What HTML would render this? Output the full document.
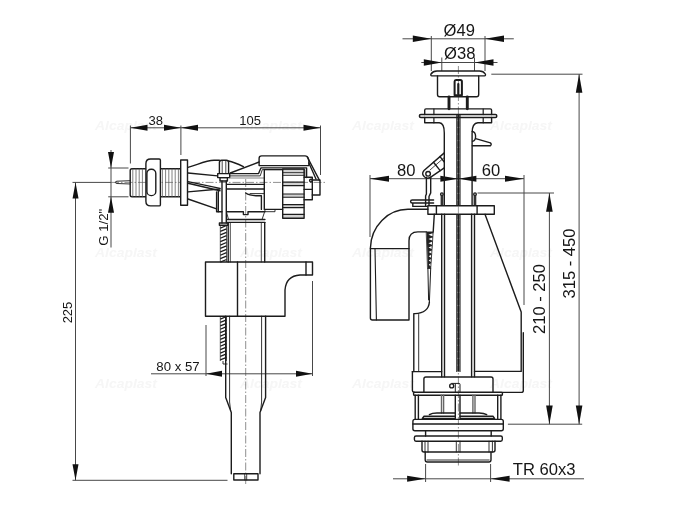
<!DOCTYPE html>
<html><head><meta charset="utf-8"><title>drawing</title>
<style>
html,body{margin:0;padding:0;background:#fff;}
svg{display:block;will-change:transform;opacity:0.999;}
text{font-family:"Liberation Sans",sans-serif;fill:#161616;}
</style></head><body>
<svg width="700" height="528" viewBox="0 0 700 528">
<rect width="700" height="528" fill="#fff"/>

<g font-size="12.5" font-weight="bold" font-style="italic" style="fill:#f6f6f6">
<text x="95" y="129.5" textLength="62" lengthAdjust="spacingAndGlyphs" style="fill:#f6f6f6">Alcaplast</text>
<text x="240" y="129.5" textLength="62" lengthAdjust="spacingAndGlyphs" style="fill:#f6f6f6">Alcaplast</text>
<text x="352" y="129.5" textLength="62" lengthAdjust="spacingAndGlyphs" style="fill:#f6f6f6">Alcaplast</text>
<text x="490" y="129.5" textLength="62" lengthAdjust="spacingAndGlyphs" style="fill:#f6f6f6">Alcaplast</text>
<text x="95" y="257" textLength="62" lengthAdjust="spacingAndGlyphs" style="fill:#f6f6f6">Alcaplast</text>
<text x="240" y="257" textLength="62" lengthAdjust="spacingAndGlyphs" style="fill:#f6f6f6">Alcaplast</text>
<text x="352" y="257" textLength="62" lengthAdjust="spacingAndGlyphs" style="fill:#f6f6f6">Alcaplast</text>
<text x="490" y="257" textLength="62" lengthAdjust="spacingAndGlyphs" style="fill:#f6f6f6">Alcaplast</text>
<text x="95" y="388" textLength="62" lengthAdjust="spacingAndGlyphs" style="fill:#f6f6f6">Alcaplast</text>
<text x="240" y="388" textLength="62" lengthAdjust="spacingAndGlyphs" style="fill:#f6f6f6">Alcaplast</text>
<text x="352" y="388" textLength="62" lengthAdjust="spacingAndGlyphs" style="fill:#f6f6f6">Alcaplast</text>
<text x="490" y="388" textLength="62" lengthAdjust="spacingAndGlyphs" style="fill:#f6f6f6">Alcaplast</text>
</g>
<g stroke="#484848" stroke-width="1" fill="none">
<line x1="130.40" y1="125.50" x2="130.40" y2="163.50" />
<line x1="180.90" y1="125.50" x2="180.90" y2="155.00" />
<line x1="320.50" y1="125.50" x2="320.50" y2="175.00" />
<line x1="130.50" y1="127.80" x2="320.50" y2="127.80" />
<line x1="108.20" y1="168.00" x2="128.50" y2="168.00" />
<line x1="108.20" y1="196.80" x2="128.50" y2="196.80" />
<line x1="111.00" y1="150.00" x2="111.00" y2="247.50" />
<line x1="72.50" y1="182.40" x2="111.00" y2="182.40" />
<line x1="75.50" y1="182.40" x2="75.50" y2="480.30" />
<line x1="72.50" y1="480.30" x2="227.50" y2="480.30" />
<line x1="151.00" y1="373.80" x2="312.50" y2="373.80" />
<line x1="206.00" y1="325.00" x2="206.00" y2="376.00" />
<line x1="312.50" y1="281.00" x2="312.50" y2="376.00" />
<line x1="111.00" y1="182.40" x2="325.00" y2="182.40" stroke-width="0.6" stroke="#444" stroke-dasharray="8 2 1.5 2"/>
<line x1="245.70" y1="179.00" x2="245.70" y2="484.00" stroke-width="0.6" stroke="#444" stroke-dasharray="8 2 1.5 2"/>
</g>
<polygon points="130.50,127.80 147.50,124.80 147.50,130.80" fill="#111" stroke="none"/>
<polygon points="181.00,127.80 164.00,124.80 164.00,130.80" fill="#111" stroke="none"/>
<polygon points="181.00,127.80 198.00,124.80 198.00,130.80" fill="#111" stroke="none"/>
<polygon points="320.50,127.80 303.50,124.80 303.50,130.80" fill="#111" stroke="none"/>
<polygon points="111.00,168.00 108.00,152.00 114.00,152.00" fill="#111" stroke="none"/>
<polygon points="111.00,196.80 108.00,212.80 114.00,212.80" fill="#111" stroke="none"/>
<polygon points="75.50,182.40 72.50,198.40 78.50,198.40" fill="#111" stroke="none"/>
<polygon points="75.50,480.30 72.50,464.30 78.50,464.30" fill="#111" stroke="none"/>
<polygon points="206.00,373.80 222.00,370.80 222.00,376.80" fill="#111" stroke="none"/>
<polygon points="312.50,373.80 296.00,370.80 296.00,376.80" fill="#111" stroke="none"/>
<text x="155.80" y="125.40" font-size="13" text-anchor="middle">38</text>
<text x="250.20" y="125.40" font-size="13" text-anchor="middle">105</text>
<text x="178.00" y="370.50" font-size="13.2" text-anchor="middle">80 x 57</text>
<text x="72.30" y="312.50" font-size="13" text-anchor="middle" transform="rotate(-90 72.30 312.50)">225</text>
<text x="108.30" y="227.20" font-size="13.2" text-anchor="middle" transform="rotate(-90 108.30 227.20)">G 1/2"</text>
<g stroke="#1c1c1c" stroke-width="1.4" fill="none" stroke-linejoin="round" stroke-linecap="round">
<path d="M130.2,180.7 L117,181.2 Q115.3,181.4 115.3,182.3 Q115.3,183.3 117,183.5 L130.2,184" stroke-width="0.9" />
<path d="M146,168.7 H132 Q130.2,168.7 130.2,170.5 V195 Q130.2,196.8 132,196.8 H146" />
<rect x="160.30" y="168.70" width="20.30" height="28.10" rx="0" />
<path d="M132.80,169 V196.6 M136.00,169 V196.6 M139.20,169 V196.6 M142.40,169 V196.6 M162.40,169 V196.6 M165.60,169 V196.6 M168.80,169 V196.6 M172.00,169 V196.6 M175.20,169 V196.6 M178.40,169 V196.6 " stroke-width="0.75" stroke="#555" />
<path d="M150.6,159 H159.2 Q160.4,159 160.4,160.2 V204.7 Q160.4,205.9 159.2,205.9 H150.6 Q145.9,205.9 145.9,201.2 V163.7 Q145.9,159 150.6,159 Z" fill="#fff"/>
<rect x="146.90" y="169.30" width="8.90" height="26.30" rx="4.2" />
<rect x="180.70" y="160.00" width="6.80" height="45.20" rx="0" fill="#fff"/>
<path d="M188,167.3 C198,164.5 206,160.6 214,160.3 L219.4,160.2 M228.6,161 C234,162 239,164.5 243.4,166.7" />
<line x1="188.00" y1="173.00" x2="217.70" y2="175.90" />
<line x1="188.00" y1="181.60" x2="220.00" y2="188.40" />
<line x1="188.00" y1="183.30" x2="220.00" y2="190.70" />
<line x1="188.00" y1="191.90" x2="220.00" y2="189.00" />
<path d="M188,199 L216.6,208.9 V211.7 H222" />
<line x1="216.60" y1="192.00" x2="216.60" y2="208.90" />
<line x1="218.30" y1="191.00" x2="218.30" y2="211.70" />
<path d="M219.4,173.6 V162.4 Q219.4,160.2 221.6,160.2 H226.4 Q228.6,160.2 228.6,162.4 V173.6" />
<line x1="222.20" y1="161.00" x2="222.20" y2="173.60" stroke-width="0.8" />
<line x1="225.80" y1="161.00" x2="225.80" y2="173.60" stroke-width="0.8" />
<rect x="217.70" y="173.60" width="12.00" height="4.00" rx="0" fill="#fff"/>
<rect x="220.00" y="177.60" width="7.40" height="3.40" rx="0" />
<line x1="222.00" y1="181.00" x2="222.00" y2="223.00" />
<line x1="226.30" y1="181.00" x2="226.30" y2="223.00" />
<rect x="219.40" y="223.00" width="8.60" height="2.20" rx="0" />
<line x1="230.30" y1="173.00" x2="259.10" y2="162.00" />
<path d="M229.7,173.6 H258.6 L260.9,167.9 H306.6 V177.6" />
<path d="M229.7,175.9 H260.2 L262.3,169.6 H304.8 V177.6" stroke-width="0.9" />
<line x1="229.70" y1="178.00" x2="264.30" y2="178.00" stroke-width="0.8" stroke="#666" />
<line x1="227.00" y1="184.40" x2="264.30" y2="184.40" />
<line x1="227.00" y1="189.00" x2="264.30" y2="189.00" />
<line x1="250.00" y1="193.60" x2="264.30" y2="193.60" stroke-width="0.9" />
<path d="M261.6,155.9 H305 Q307.5,155.9 308.3,158.5 L308.9,161 V165.6 H259.1 V158.4 Q259.1,155.9 261.6,155.9 Z" />
<line x1="307.30" y1="157.00" x2="319.50" y2="180.40" />
<line x1="308.90" y1="163.00" x2="316.00" y2="179.00" />
<path d="M264.3,209.4 V169.6 H282.6 M264.3,209.4 H282.6" />
<path d="M264.9,209.4 V211.7 H275 V209.4" stroke-width="0.9" />
<rect x="282.7" y="169.60" width="21.4" height="3.20" fill="#d2d2d2" stroke="none"/>
<rect x="282.7" y="182.10" width="21.4" height="3.50" fill="#d2d2d2" stroke="none"/>
<rect x="282.7" y="194.00" width="21.4" height="3.20" fill="#d2d2d2" stroke="none"/>
<rect x="282.7" y="204.60" width="21.4" height="3.00" fill="#d2d2d2" stroke="none"/>
<rect x="282.7" y="214.40" width="21.4" height="3.60" fill="#d2d2d2" stroke="none"/>
<rect x="282.70" y="169.00" width="21.40" height="49.20" rx="0" />
<line x1="282.70" y1="172.80" x2="304.10" y2="172.80" stroke-width="1.1" />
<line x1="282.70" y1="175.30" x2="304.10" y2="175.30" stroke-width="1.1" />
<line x1="282.70" y1="182.10" x2="304.10" y2="182.10" stroke-width="1.1" />
<line x1="282.70" y1="185.60" x2="304.10" y2="185.60" stroke-width="1.1" />
<line x1="282.70" y1="194.00" x2="304.10" y2="194.00" stroke-width="1.1" />
<line x1="282.70" y1="197.20" x2="304.10" y2="197.20" stroke-width="1.1" />
<line x1="282.70" y1="204.60" x2="304.10" y2="204.60" stroke-width="1.1" />
<line x1="282.70" y1="207.60" x2="304.10" y2="207.60" stroke-width="1.1" />
<line x1="282.70" y1="214.40" x2="304.10" y2="214.40" stroke-width="1.1" />
<path d="M304.1,177.2 H312.3 V199.7 H304.1 M304.1,189.4 H312.3" />
<path d="M312.3,180 H320 V195 H312.3" />
<circle cx="311" cy="180.6" r="1.4"/>
<path d="M245.7,193 C250,196 256,196 261.4,195.7 V209.4" />
<path d="M227,211.7 H243.4 V214.6 H248 V211.7 H264.9" />
<line x1="226.90" y1="219.50" x2="264.90" y2="219.50" />
<line x1="226.90" y1="222.40" x2="264.90" y2="222.40" />
<path d="M226.6,212.5 L228.4,219 M264.4,212.5 L262.2,219" stroke-width="0.9" />
<line x1="228.20" y1="222.60" x2="228.20" y2="262.00" />
<line x1="230.30" y1="222.60" x2="230.30" y2="262.00" stroke-width="0.8" />
<line x1="261.30" y1="222.60" x2="261.30" y2="262.00" stroke-width="0.8" />
<line x1="264.70" y1="222.60" x2="264.70" y2="262.00" />
<path d="M205.5,262 H312.5 V275 H300 Q286,276 285,290 V316.2 H205.5 Z" />
<line x1="306.00" y1="262.00" x2="306.00" y2="275.00" />
<line x1="237.50" y1="262.00" x2="237.50" y2="316.20" />
<path d="M225.7,316.2 V397.5 L231.3,412.5 V473.8" />
<path d="M265.6,316.2 V397.5 L260,412.5 V473.8" />
<path d="M229.6,316.2 V402 L230.6,410.5 M261.6,316.2 V402 L260.7,410.5" stroke-width="0.9" />
<rect x="233.80" y="473.80" width="24.20" height="6.20" rx="0" />
<line x1="244.70" y1="473.80" x2="244.70" y2="480.00" stroke-width="0.8" />
<line x1="246.70" y1="473.80" x2="246.70" y2="480.00" stroke-width="0.8" />
</g>
<g stroke="#1c1c1c" fill="none">
<path d="M220.30,225.50 V262.00 M226.50,225.50 V262.00" stroke-width="0.7" />
<path d="M220.30,228.05 L226.50,225.50 M220.30,231.45 L226.50,228.90 M220.30,234.85 L226.50,232.30 M220.30,238.25 L226.50,235.70 M220.30,241.65 L226.50,239.10 M220.30,245.05 L226.50,242.50 M220.30,248.45 L226.50,245.90 M220.30,251.85 L226.50,249.30 M220.30,255.25 L226.50,252.70 M220.30,258.65 L226.50,256.10 M220.30,262.05 L226.50,259.50 " stroke-width="1.25" />
<path d="M220.30,316.50 V361.00 M226.50,316.50 V361.00" stroke-width="0.7" />
<path d="M220.30,319.05 L226.50,316.50 M220.30,322.45 L226.50,319.90 M220.30,325.85 L226.50,323.30 M220.30,329.25 L226.50,326.70 M220.30,332.65 L226.50,330.10 M220.30,336.05 L226.50,333.50 M220.30,339.45 L226.50,336.90 M220.30,342.85 L226.50,340.30 M220.30,346.25 L226.50,343.70 M220.30,349.65 L226.50,347.10 M220.30,353.05 L226.50,350.50 M220.30,356.45 L226.50,353.90 M220.30,359.85 L226.50,357.30 " stroke-width="1.25" />
<path d="M223,361 V364 H227.5" stroke-width="0.9" />
</g>
<g stroke="#484848" stroke-width="1" fill="none">
<line x1="402.50" y1="38.80" x2="513.80" y2="38.80" />
<line x1="431.30" y1="36.00" x2="431.30" y2="71.00" />
<line x1="485.00" y1="36.00" x2="485.00" y2="71.00" />
<line x1="421.30" y1="62.50" x2="497.50" y2="62.50" />
<line x1="441.80" y1="57.50" x2="441.80" y2="71.00" />
<line x1="474.50" y1="57.50" x2="474.50" y2="71.00" />
<line x1="370.00" y1="178.70" x2="524.00" y2="178.70" />
<line x1="370.00" y1="175.00" x2="370.00" y2="237.00" />
<line x1="524.00" y1="175.00" x2="524.00" y2="305.00" />
<line x1="477.50" y1="193.00" x2="554.00" y2="193.00" />
<line x1="549.40" y1="193.00" x2="549.40" y2="424.20" />
<line x1="491.30" y1="74.20" x2="582.50" y2="74.20" />
<line x1="579.10" y1="74.20" x2="579.10" y2="424.20" />
<line x1="507.90" y1="424.20" x2="582.20" y2="424.20" />
<line x1="393.00" y1="478.80" x2="584.00" y2="478.80" />
<line x1="425.60" y1="464.00" x2="425.60" y2="482.00" />
<line x1="490.60" y1="464.00" x2="490.60" y2="482.00" />
<line x1="458.40" y1="66.00" x2="458.40" y2="467.00" stroke-width="0.6" stroke="#444" stroke-dasharray="8 2 1.5 2"/>
</g>
<polygon points="431.30,38.80 412.80,35.50 412.80,42.10" fill="#111" stroke="none"/>
<polygon points="485.00,38.80 504.00,35.50 504.00,42.10" fill="#111" stroke="none"/>
<polygon points="441.80,62.50 423.80,59.20 423.80,65.80" fill="#111" stroke="none"/>
<polygon points="474.50,62.50 493.50,59.20 493.50,65.80" fill="#111" stroke="none"/>
<polygon points="370.00,178.70 389.00,175.70 389.00,181.70" fill="#111" stroke="none"/>
<polygon points="458.40,178.70 440.40,175.70 440.40,181.70" fill="#111" stroke="none"/>
<polygon points="458.40,178.70 476.40,175.70 476.40,181.70" fill="#111" stroke="none"/>
<polygon points="524.00,178.70 505.00,175.70 505.00,181.70" fill="#111" stroke="none"/>
<polygon points="549.40,193.00 546.10,211.80 552.70,211.80" fill="#111" stroke="none"/>
<polygon points="549.40,424.20 546.10,405.40 552.70,405.40" fill="#111" stroke="none"/>
<polygon points="579.10,74.20 575.80,92.70 582.40,92.70" fill="#111" stroke="none"/>
<polygon points="579.10,424.20 575.80,405.40 582.40,405.40" fill="#111" stroke="none"/>
<polygon points="425.60,478.80 407.10,475.80 407.10,481.80" fill="#111" stroke="none"/>
<polygon points="490.60,478.80 509.60,475.80 509.60,481.80" fill="#111" stroke="none"/>
<text x="459.30" y="35.90" font-size="16.6" text-anchor="middle">Ø49</text>
<text x="459.80" y="58.90" font-size="16.6" text-anchor="middle">Ø38</text>
<text x="406.30" y="176.40" font-size="16.6" text-anchor="middle">80</text>
<text x="491.10" y="176.00" font-size="16.6" text-anchor="middle">60</text>
<text x="512.80" y="474.80" font-size="16.6" text-anchor="start">TR 60x3</text>
<text x="544.90" y="299.00" font-size="16.6" text-anchor="middle" transform="rotate(-90 544.90 299.00)">210 - 250</text>
<text x="574.90" y="263.50" font-size="16.6" text-anchor="middle" transform="rotate(-90 574.90 263.50)">315 - 450</text>
<g stroke="#1c1c1c" stroke-width="1.4" fill="none" stroke-linejoin="round" stroke-linecap="round">
<path d="M432,75.9 Q430.2,75.6 431,74 Q433,71 437,71 H479.4 Q483.5,71 485.3,74 Q486,75.6 484.4,75.9 Z" />
<path d="M437.5,75.9 V94.6 Q437.5,96.8 439.7,96.8 H476.5 Q478.7,96.8 478.7,94.6 V75.9" />
<path d="M454.6,95.2 V81.5 Q454.6,80 456,80 H460.4 Q461.9,80 461.9,81.5 V95.2 Z" stroke-width="2.0" />
<line x1="458.30" y1="84.00" x2="458.30" y2="94.00" stroke-width="2.2" />
<line x1="449.00" y1="97.00" x2="449.00" y2="108.80" stroke-width="2.9" />
<line x1="467.30" y1="97.00" x2="467.30" y2="108.80" stroke-width="2.9" />
<path d="M424.7,114.6 V110.2 Q424.7,108.9 426,108.9 H490.3 Q491.6,108.9 491.6,110.2 V114.6" />
<rect x="419.40" y="114.60" width="77.40" height="2.90" rx="1.45" stroke-width="1.5" />
<path d="M424.7,117.5 V122.8 H439.3 Q444.3,123.2 444.3,132.9 V205.7" />
<path d="M491.6,117.5 V122.8 H477.9 Q472.1,123.2 472.1,132.9 V205.7" />
<line x1="433.90" y1="109.00" x2="433.90" y2="114.60" stroke-width="1.2" />
<line x1="433.90" y1="117.50" x2="433.90" y2="122.80" stroke-width="1.2" />
<line x1="483.20" y1="109.00" x2="483.20" y2="114.60" stroke-width="1.2" />
<line x1="483.20" y1="117.50" x2="483.20" y2="122.80" stroke-width="1.2" />
<line x1="456.80" y1="115.00" x2="456.80" y2="371.50" stroke-width="1.1" />
<line x1="460.00" y1="115.00" x2="460.00" y2="371.50" stroke-width="1.1" />
<line x1="458.40" y1="115.00" x2="458.40" y2="371.00" stroke-width="2.0" stroke-dasharray="5 1.6"/>
<path d="M472.1,131.4 C476.5,132 476.8,140 472.6,141.4" />
<path d="M475.7,138.6 L490.4,142.9 Q492,144.3 490.4,145.7 H472.3" />
<path d="M444.3,152.9 L424,170.5 Q421,174 424.6,177 Q428,179.6 431.5,176.6 L444.3,167.8" />
<line x1="440.00" y1="156.60" x2="444.30" y2="162.00" />
<line x1="433.50" y1="162.30" x2="440.20" y2="170.60" />
<line x1="444.30" y1="157.50" x2="430.00" y2="170.00" stroke-width="0.8" />
<circle cx="428.1" cy="173.8" r="2.3"/>
<path d="M426.4,177.3 V194 L425.6,196 V205.7 M430.7,177.3 V192.9 L429,196.5 V205.7" />
<path d="M433.6,200 H412.2 Q410.6,200 410.6,201.5 Q410.6,203 412.2,203 H433.6 M412.8,203 V206.4 H427.9" />
<circle cx="441.9" cy="194.2" r="1.3"/><circle cx="475" cy="194.2" r="1.3"/>
<rect x="440.6" y="195.6" width="2.7" height="10" fill="#333" stroke="none"/><rect x="473.6" y="195.6" width="2.7" height="10" fill="#333" stroke="none"/>
<rect x="427.90" y="205.70" width="66.40" height="8.60" rx="0" fill="#fff"/>
<line x1="458.40" y1="206.50" x2="458.40" y2="213.50" stroke-width="0.6" stroke="#666" />
<line x1="436.40" y1="205.70" x2="436.40" y2="214.30" />
<line x1="477.10" y1="205.70" x2="477.10" y2="214.30" />
<line x1="441.70" y1="214.30" x2="441.70" y2="376.80" />
<line x1="444.50" y1="214.30" x2="444.50" y2="376.80" />
<line x1="471.60" y1="214.30" x2="471.60" y2="376.80" />
<line x1="474.50" y1="214.30" x2="474.50" y2="376.80" />
<path d="M434.3,214.3 L433.2,231.9 M429.4,302 Q428.5,313 415,313.6 H413.8 V371.6" />
<line x1="418.70" y1="314.50" x2="418.70" y2="371.60" stroke-width="0.9" />
<path d="M485,214.3 L521.2,312 V371.4 H474.5" />
<line x1="412.30" y1="371.60" x2="441.70" y2="371.60" />
<path d="M523.3,332.8 V390.4 Q523.3,392.4 521.3,392.4 H502.4" />
<path d="M427.9,209.3 H407.9 C388,209.3 371,226 370.4,247.9 V318 Q370.4,320 372.4,320 H409 V240.7 Q409,231.9 417.9,231.9 H426.4" />
<path d="M370.4,248.6 H409" />
<path d="M375,248.6 L376.4,320" stroke-width="1.1" />
<polygon points="426.6,231.9 433.2,231.9 430.7,268.5 427.9,268.5" fill="#222" stroke="#222" stroke-width="0.8"/>
<polygon points="432.52,233.20 428.42,234.70 432.52,236.20" fill="#fff" stroke="none"/>
<polygon points="432.23,237.50 428.47,239.00 432.23,240.50" fill="#fff" stroke="none"/>
<polygon points="431.93,241.80 428.53,243.30 431.93,244.80" fill="#fff" stroke="none"/>
<polygon points="431.64,246.10 428.58,247.60 431.64,249.10" fill="#fff" stroke="none"/>
<polygon points="431.35,250.40 428.63,251.90 431.35,253.40" fill="#fff" stroke="none"/>
<polygon points="431.06,254.70 428.69,256.20 431.06,257.70" fill="#fff" stroke="none"/>
<polygon points="430.76,259.00 428.74,260.50 430.76,262.00" fill="#fff" stroke="none"/>
<polygon points="430.47,263.30 428.80,264.80 430.47,266.30" fill="#fff" stroke="none"/>
<path d="M427.9,268.5 L428.6,300 M430.7,268.5 L429.4,302" stroke-width="1.0" />
<path d="M412.4,371.6 V390.4 Q412.4,392 414,392" />
<path d="M423.9,391.9 V379 Q423.9,377 425.9,377 H491 Q493,377 493,379 V391.9" />
<circle cx="451.7" cy="385.9" r="2"/>
<path d="M451.7,383.4 H459 Q460,383.4 460,384.4 V391.9 M455.3,384 V391.9" stroke-width="1.0" />
<rect x="413.60" y="392.30" width="88.80" height="2.90" rx="0.8" />
<line x1="415.20" y1="395.20" x2="415.20" y2="419.40" />
<line x1="418.40" y1="395.20" x2="418.40" y2="419.40" />
<line x1="497.70" y1="395.20" x2="497.70" y2="419.40" />
<line x1="500.90" y1="395.20" x2="500.90" y2="419.40" />
<line x1="441.50" y1="395.20" x2="441.50" y2="413.00" stroke="#666" />
<line x1="443.60" y1="395.20" x2="443.60" y2="413.00" stroke="#666" />
<line x1="472.90" y1="395.20" x2="472.90" y2="413.00" stroke="#666" />
<line x1="475.00" y1="395.20" x2="475.00" y2="413.00" stroke="#666" />
<line x1="455.30" y1="395.20" x2="455.30" y2="417.80" />
<line x1="460.00" y1="395.20" x2="460.00" y2="417.80" />
<path d="M429.4,414.6 Q432,413 437,413 H455.3 M460,413 H479 Q484,413 486.7,414.6" />
<path d="M455.3,416.2 H424 L422.3,418.4 H455.3 M460,416.2 H493 L494.6,418.4 H460" />
<rect x="412.90" y="419.40" width="90.40" height="11.40" rx="2" />
<line x1="412.90" y1="424.00" x2="503.30" y2="424.00" />
<path d="M425.6,430.8 V436 M491.2,430.8 V436" />
<rect x="414.40" y="436.00" width="87.90" height="5.20" rx="1.6" />
<path d="M422,441.2 V450 Q422,452 424,452 H493 Q495,452 495,450 V441.2" />
<line x1="425.00" y1="441.20" x2="425.00" y2="452.00" stroke-width="0.9" />
<line x1="428.00" y1="441.20" x2="428.00" y2="452.00" stroke-width="0.9" />
<line x1="456.30" y1="441.20" x2="456.30" y2="452.00" stroke-width="0.9" />
<line x1="460.00" y1="441.20" x2="460.00" y2="452.00" stroke-width="0.9" />
<line x1="489.00" y1="441.20" x2="489.00" y2="452.00" stroke-width="0.9" />
<line x1="492.40" y1="441.20" x2="492.40" y2="452.00" stroke-width="0.9" />
<path d="M425.2,452 V459.8 Q425.2,462 427.4,462 H488.8 Q491,462 491,459.8 V452" />
<line x1="427.00" y1="460.00" x2="489.20" y2="460.00" stroke-width="0.9" />
</g>
</svg></body></html>
